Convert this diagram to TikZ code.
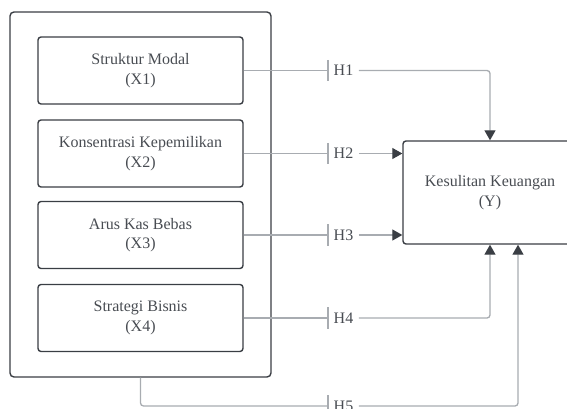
\documentclass[tikz,border=0pt]{standalone}
\usepackage{fontspec}
\setmainfont{Liberation Serif}
\usetikzlibrary{arrows.meta,positioning,calc}
\definecolor{BoxGray}{RGB}{58,62,68}
\definecolor{LineGray}{RGB}{168,172,177}
\definecolor{TextGray}{RGB}{72,76,82}

\begin{document}
\begin{tikzpicture}[x=1pt,y=-1pt,>={Triangle[length=10pt,width=11pt,color=BoxGray]},
  font=\fontsize{16}{19.5}\selectfont,text=TextGray,
  var/.style={draw=BoxGray,line width=1.4pt,rounded corners=3pt,minimum width=205pt,minimum height=67pt,align=center,inner sep=0pt},
  hyp/.style={inner xsep=5.5pt,inner ysep=0pt,minimum height=21pt,anchor=west},
  link/.style={draw=LineGray,line width=1.3pt,rounded corners=3pt}]
\useasboundingbox (0,0) rectangle (567,409);
\node[draw=BoxGray,line width=1.4pt,rounded corners=4pt,minimum width=261pt,minimum height=365pt] (grp) at (140.5,194.5) {};
\node[var] (x1) at (140.5,70.5) {Struktur Modal\\(X1)};
\node[var] (x2) at (140.5,153.5) {Konsentrasi Kepemilikan\\(X2)};
\node[var] (x3) at (140.5,235) {Arus Kas Bebas\\(X3)};
\node[var] (x4) at (140.5,318) {Strategi Bisnis\\(X4)};
\node[var,minimum width=174pt,minimum height=103pt] (y) at (490,192.5) {Kesulitan Keuangan\\(Y)};
\node[hyp] (h1) at (328,70.5) {H1};
\node[hyp] (h2) at (328,153.5) {H2};
\node[hyp] (h3) at (328,235) {H3};
\node[hyp] (h4) at (328,318) {H4};
\node[hyp] (h5) at (328,406) {H5};
\coordinate (y5) at ([xshift=28pt]y.south);
\foreach \h in {h1,h2,h3,h4,h5}
  \draw[link] (\h.north west) -- (\h.south west);
\draw[link] (x1.east) -- (h1.west);
\draw[link] (x2.east) -- (h2.west);
\draw[link] (x3.east) -- (h3.west);
\draw[link] (x4.east) -- (h4.west);
\draw[link] (grp.south) |- (h5.west);
\draw[link,->] (h1.east) -| (y.north);
\draw[link,->] (h2.east) -- (h2.east -| y.west);
\draw[link,->] (h3.east) -- (h3.east -| y.west);
\draw[link,->] (h4.east) -| (y.south);
\draw[link,->] (h5.east) -| (y5);
\end{tikzpicture}
\end{document}
